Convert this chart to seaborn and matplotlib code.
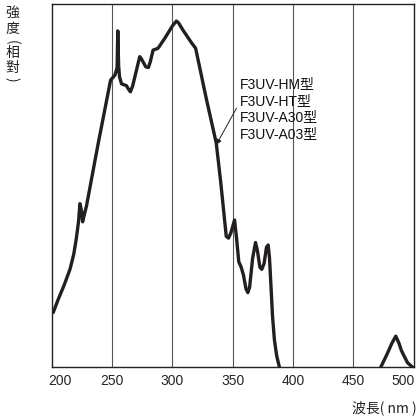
import matplotlib
matplotlib.use('Agg')
import pandas as pd
import seaborn as sns
from matplotlib import pyplot as plt
from matplotlib.transforms import ScaledTranslation

# main band (wavelength nm, relative intensity 0-100)
wl_main = [201, 205, 210, 215, 218, 220, 222, 223.2, 224.5, 225.4, 226.5, 228.7,
           238, 248.6, 252.2, 254, 254.6, 255.3, 256, 257.7, 261.8, 263.5, 265.1,
           267, 272.8, 274, 277.8, 280, 281.5, 283.9, 288, 293.5, 300, 303.2, 305,
           308.7, 315.6, 319.2, 328, 336.3, 340, 344.6, 346.5, 348.5, 351.5, 353,
           355, 357, 358.9, 361, 362.5, 364, 366.5, 368.9, 370.5, 372.5, 374.1,
           376, 378, 379.4, 380.5, 381.9, 383, 384.6, 386.5, 388.7, 389.5]
int_main = [15, 18.5, 22.5, 27, 31, 35, 40, 45, 43, 40, 41.5, 44.5,
            61, 79, 80.4, 82.4, 92.6, 83, 80, 78, 77.5, 76.5, 75.8,
            77.5, 85.5, 85, 82.7, 82.5, 84, 87.3, 87.8, 90.5, 94, 95.3, 94.8,
            92.8, 89.4, 87.8, 74, 61.7, 51, 36, 35.5, 37, 40.5, 36,
            29, 27.5, 25.3, 21.5, 20.5, 22, 30, 34.3, 32, 27.5, 26.9,
            28.5, 33, 33.6, 30, 21.2, 14, 7.4, 3, 0, -1]

# small band near 485 nm
wl_side = [472, 472.9, 478, 482, 485.3, 488, 490, 495, 499, 501]
int_side = [-1, 0, 3.5, 6.5, 8.5, 6.5, 4.5, 1.2, 0, -0.5]

xticks = [200, 250, 300, 350, 400, 450, 500]
models = ['F3UV-HM型', 'F3UV-HT型', 'F3UV-A30型', 'F3UV-A03型']

sns.set_style('white')
plt.rcParams['font.family'] = ['Liberation Sans', 'Noto Sans CJK TC', 'DejaVu Sans']

fig = plt.figure(figsize=(4.18, 4.18), dpi=100)
ax = fig.add_axes([52 / 418, 51 / 418, 361.5 / 418, 363 / 418])

line_col = '#231f20'
df_main = pd.DataFrame({'wl': wl_main, 'val': int_main})
df_side = pd.DataFrame({'wl': wl_side, 'val': int_side})
sns.lineplot(data=df_main, x='wl', y='val', sort=False, estimator=None,
             color=line_col, lw=2.4, ax=ax, solid_joinstyle='round')
sns.lineplot(data=df_side, x='wl', y='val', sort=False, estimator=None,
             color=line_col, lw=2.4, ax=ax, solid_joinstyle='round')

ax.set_xlim(200, 500)
ax.set_ylim(0, 100)
for x in xticks[1:-1]:
    ax.axvline(x, color='#555555', lw=0.8, zorder=0)

ax.set_xticks(xticks)
ax.set_xticklabels([str(t) for t in xticks], fontsize=10)
ax.set_yticks([])
ax.tick_params(axis='x', length=0, pad=5)
labels = ax.get_xticklabels()
labels[0].set_ha('left')
labels[0].set_transform(labels[0].get_transform() + ScaledTranslation(-4 / 100, 0, fig.dpi_scale_trans))
labels[-1].set_ha('right')
labels[-1].set_transform(labels[-1].get_transform() + ScaledTranslation(1 / 100, 0, fig.dpi_scale_trans))
ax.set_xlabel('')
ax.set_ylabel('')
for s in ax.spines.values():
    s.set_color('#222222')
    s.set_linewidth(1.0)

# model labels and pointer
ax.text(355.6, 79.8, '\n'.join(models), ha='left', va='top', fontsize=10,
        linespacing=1.22, color='#111111')
ax.annotate('', xy=(336.3, 61.2), xytext=(353.1, 71.3),
            arrowprops=dict(arrowstyle='-|>', lw=0.7, color='#222222',
                            mutation_scale=8, shrinkA=0, shrinkB=0))

# vertical y label (parentheses turned sideways)
ychars = [('強', 12.5, 0), ('度', 29, 0), ('(', 42, -90), ('相', 53, 0),
          ('對', 68, 0), (')', 79, -90)]
for ch, yp, rot in ychars:
    fig.text(12 / 418, 1 - yp / 418, ch, ha='center', va='center', fontsize=10,
             rotation=rot, family=['Noto Sans CJK TC', 'DejaVu Sans'], color='#222222')

fig.text(417 / 418, 1 - 408 / 418, '波長( nm )', ha='right', va='center', fontsize=10,
         family=['Noto Sans CJK TC', 'DejaVu Sans'], color='#222222')

fig.savefig('out.png', dpi=100)
